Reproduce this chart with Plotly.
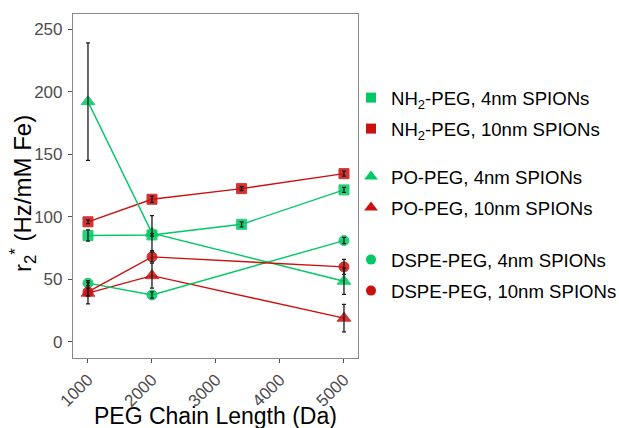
import plotly.graph_objects as go

# ---- data ----
series_names = [
    "NH<sub>2</sub>-PEG, 4nm SPIONs",
    "NH<sub>2</sub>-PEG, 10nm SPIONs",
    "PO-PEG, 4nm SPIONs",
    "PO-PEG, 10nm SPIONs",
    "DSPE-PEG, 4nm SPIONs",
    "DSPE-PEG, 10nm SPIONs",
]
nh2_x = [1000, 2000, 3400, 5000]
other_x = [1000, 2000, 5000]

nh2_4_y = [85, 85.5, 94, 121.5]
nh2_4_err = [4.5, 1.0, 2.0, 2.0]
nh2_10_y = [96, 114, 122.5, 134.5]
nh2_10_err = [1.5, 2.5, 1.5, 2.0]
po_4_y = [192, 87, 48.5]
po_4_err = [47, 14, 10.5]
po_10_y = [39, 53, 19]
po_10_err = [8.5, 10, 11]
dspe_4_y = [47, 37.5, 81]
dspe_4_err = [2, 2.5, 2.5]
dspe_10_y = [40, 68, 60]
dspe_10_err = [3, 4, 6]

x_ticks = [1000, 2000, 3000, 4000, 5000]
y_ticks = [0, 50, 100, 150, 200, 250]

GREEN = "#00C864"
RED = "#CC1010"
FONT = "Liberation Sans, Arial, sans-serif"

series = [
    (series_names[0], nh2_x, nh2_4_y, nh2_4_err, GREEN, "square", 10),
    (series_names[1], nh2_x, nh2_10_y, nh2_10_err, RED, "square", 10),
    (series_names[2], other_x, po_4_y, po_4_err, GREEN, "triangle-up", 12),
    (series_names[3], other_x, po_10_y, po_10_err, RED, "triangle-up", 12),
    (series_names[4], other_x, dspe_4_y, dspe_4_err, GREEN, "circle", 10),
    (series_names[5], other_x, dspe_10_y, dspe_10_err, RED, "circle", 10),
]

fig = go.Figure()
legend_ids = ["legend", "legend2", "legend3", "legend4", "legend5", "legend6"]

# lines + markers
for i, (name, xs, ys, es, col, sym, sz) in enumerate(series):
    fig.add_trace(go.Scatter(
        x=xs, y=ys, name=name, mode="lines+markers", showlegend=False,
        line=dict(color=col, width=1.4),
        marker=dict(symbol=sym, size=sz, color=col, opacity=0.85,
                    line=dict(color=col, width=1)),
    ))

# error bars drawn on top of the markers
for i, (name, xs, ys, es, col, sym, sz) in enumerate(series):
    fig.add_trace(go.Scatter(
        x=xs, y=ys, mode="markers", showlegend=False, hoverinfo="skip",
        marker=dict(size=1, color="rgba(0,0,0,0)"),
        error_y=dict(type="data", array=es, visible=True,
                     color="#1a1a1a", thickness=1.3, width=2),
    ))

# legend-only entries (marker key without line)
for i, (name, xs, ys, es, col, sym, sz) in enumerate(series):
    fig.add_trace(go.Scatter(
        x=[None], y=[None], name=name, mode="markers",
        marker=dict(symbol=sym, size=sz, color=col),
        legend=legend_ids[i],
    ))

# legend rows (pixel centres converted to paper coords)
plot_left, plot_right = 73, 358
plot_top, plot_bottom = 14, 358
pw = plot_right - plot_left
ph = plot_bottom - plot_top
row_px = [98, 129, 177, 208, 260, 291]
legend_left_px = 351
layout_legends = {}
for lid, ypx in zip(legend_ids, row_px):
    layout_legends[lid] = dict(
        x=(legend_left_px - plot_left) / pw, xanchor="left",
        y=(plot_bottom - ypx) / ph, yanchor="middle",
        bgcolor="rgba(0,0,0,0)", borderwidth=0,
        font=dict(family=FONT, size=18.6, color="#000000"),
        itemwidth=30,
    )

fig.update_layout(
    width=619, height=428,
    margin=dict(l=plot_left, r=619 - plot_right, t=plot_top, b=428 - plot_bottom,
                autoexpand=False),
    paper_bgcolor="white", plot_bgcolor="white",
    font=dict(family=FONT),
    xaxis=dict(
        range=[766, 5219], tickvals=x_ticks, ticktext=[str(v) for v in x_ticks],
        tickangle=-45, showgrid=False, zeroline=False,
        showline=True, mirror=True, linecolor="#888888", linewidth=1.2,
        ticks="outside", ticklen=4, tickcolor="#555555", tickwidth=1.2,
        tickfont=dict(size=17, color="#4D4D4D"),
    ),
    yaxis=dict(
        range=[-12.8, 262], tickvals=y_ticks, showgrid=False, zeroline=False,
        showline=True, mirror=True, linecolor="#888888", linewidth=1.2,
        ticks="outside", ticklen=4, tickcolor="#555555", tickwidth=1.2,
        tickfont=dict(size=17, color="#4D4D4D"), ticklabelstandoff=2,
    ),
    annotations=[
        dict(
            text="PEG Chain Length (Da)", xref="paper", yref="paper",
            x=0.5, xanchor="center", y=(plot_bottom - 416) / ph,
            yanchor="middle", showarrow=False,
            font=dict(family=FONT, size=23, color="#000000"),
        ),
        dict(
            text="r<sub>2</sub><sup>*</sup> (Hz/mM Fe)", xref="paper", yref="paper",
            x=(23 - plot_left) / pw, xanchor="center",
            y=(plot_bottom - 194) / ph, yanchor="middle",
            textangle=-90, showarrow=False,
            font=dict(family=FONT, size=24, color="#000000"),
        ),
    ],
    **layout_legends,
)

fig.write_html("out.html", config={"displayModeBar": False},
               post_script="document.body.style.margin='0';")
